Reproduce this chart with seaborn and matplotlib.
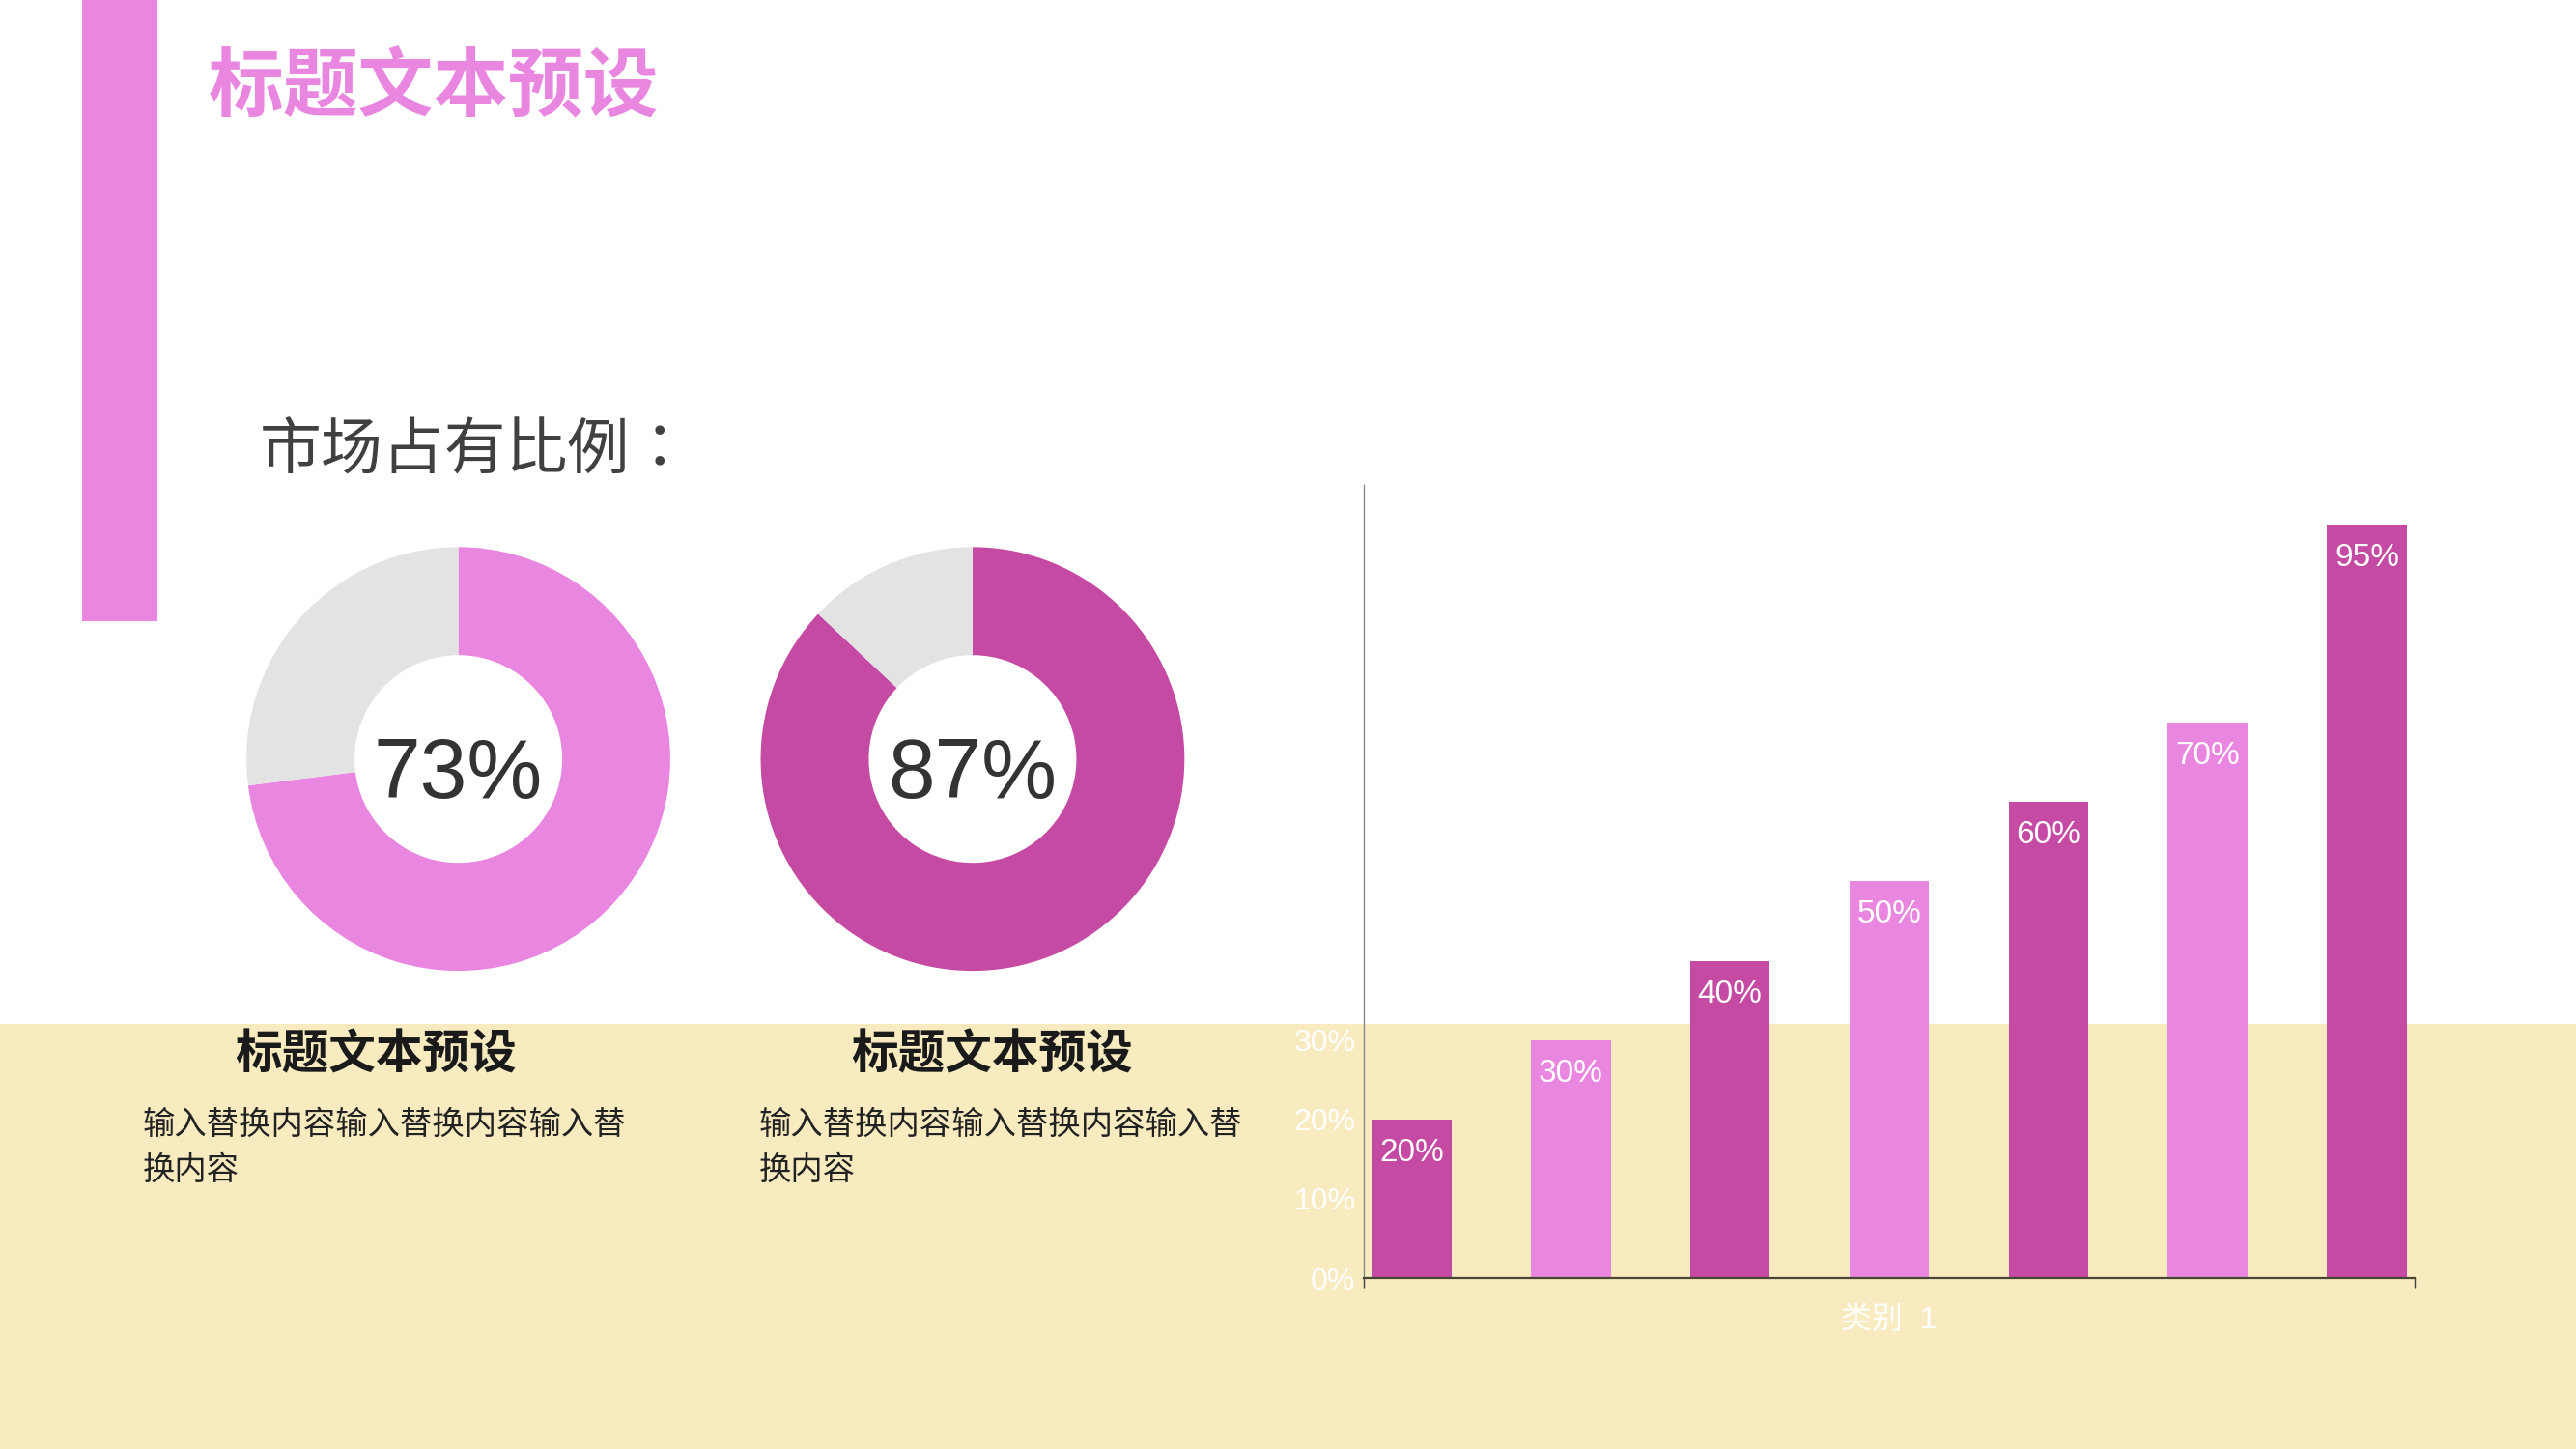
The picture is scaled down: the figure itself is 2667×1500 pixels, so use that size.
import numpy as np
import pandas as pd
import matplotlib
matplotlib.use("Agg")
import matplotlib.pyplot as plt
from matplotlib.patches import Rectangle
import seaborn as sns

# ---- data ----
share_values = [73, 87]
share_labels = ["73%", "87%"]
series_names = ["系列1", "系列2", "系列3", "系列4", "系列5", "系列6", "系列7"]
series_values = [20, 30, 40, 50, 60, 70, 95]
category = "类别  1"
y_ticks = [0, 10, 20, 30, 40, 50, 60, 70, 80, 90, 100]
title_text = "标题文本预设"
subtitle_text = "市场占有比例："
block_title = "标题文本预设"
body_line1 = "输入替换内容输入替换内容输入替"
body_line2 = "换内容"

PINK = "#E987E0"
MAGENTA = "#C44AA3"
GRAY = "#E3E3E3"
YELLOW = "#F8EBC0"

sns.set_theme(style="white")
plt.rcParams["font.family"] = ["Liberation Sans", "Noto Sans CJK SC", "DejaVu Sans"]

W, H = 1568, 882  # layout reference grid


def fx(x):
    return x / W


def fy(y):
    return 1 - y / H


fig = plt.figure(figsize=(26.67, 15), dpi=100)
fig.patch.set_facecolor("white")

# background shapes (behind every axes)
fig.patches.append(Rectangle((0, 0), 1, fy(623), transform=fig.transFigure,
                             facecolor=YELLOW, edgecolor="none", zorder=-10))
fig.patches.append(Rectangle((fx(50), fy(378)), fx(96) - fx(50), 1 - fy(378),
                             transform=fig.transFigure, facecolor=PINK,
                             edgecolor="none", zorder=-10))

# headings
fig.text(fx(127), fy(55), title_text, color=PINK, fontsize=56, fontweight="bold",
         ha="left", va="center")
fig.text(fx(158), fy(275), subtitle_text, color="#404040", fontsize=46,
         ha="left", va="center", family=["Noto Sans CJK TC", "DejaVu Sans"])

# donuts
donut_colors = [PINK, MAGENTA]
donut_cx = [279, 592]
for val, lab, col, cx in zip(share_values, share_labels, donut_colors, donut_cx):
    r = 129
    dax = fig.add_axes([fx(cx - r), fy(462 + r), 2 * r / W, 2 * r / H])
    dax.pie([val, 100 - val], startangle=90, counterclock=False,
            colors=[col, GRAY], wedgeprops=dict(width=0.51, linewidth=0))
    dax.set_xlim(-1, 1)
    dax.set_ylim(-1, 1)
    dax.axis("off")
    dax.text(0, -0.08, lab, ha="center", va="center", fontsize=63, color="#333333")

# text blocks
for cx, left in [(229, 87), (604, 462)]:
    fig.text(fx(cx), fy(643), block_title, fontsize=35, fontweight="bold",
             color="#1a1a1a", ha="center", va="center")
    fig.text(fx(left), fy(685), body_line1, fontsize=24, color="#222222",
             ha="left", va="center")
    fig.text(fx(left), fy(713), body_line2, fontsize=24, color="#222222",
             ha="left", va="center")

# bar chart
df = pd.DataFrame({"cat": [category] * len(series_names),
                   "series": series_names,
                   "value": series_values})
bar_colors = [MAGENTA if i % 2 == 0 else PINK for i in range(len(series_names))]

ax = fig.add_axes([fx(830), fy(778), fx(1470) - fx(830), fy(295) - fy(778)])
ax.patch.set_alpha(0)
sns.barplot(data=df, x="cat", y="value", hue="series", palette=bar_colors,
            width=1.06, gap=0.5, legend=False, saturation=1, linewidth=0, ax=ax)

for cont in ax.containers:
    ax.bar_label(cont, fmt="%d%%", label_type="edge", padding=-36,
                 color="white", fontsize=24)

ax.set_xlim(-0.5, 0.5)
ax.set_ylim(0, 100)
ax.set_yticks(y_ticks)
ax.set_yticklabels([f"{t}%" for t in y_ticks], color="white", fontsize=23)
ax.tick_params(axis="y", length=0, pad=6)
ax.tick_params(axis="x", which="major", length=0, pad=21, labelcolor="white",
               labelsize=23)
ax.set_xticks([-0.5, 0.5], minor=True)
ax.tick_params(axis="x", which="minor", length=7, width=1, color="#404040",
               direction="out", bottom=True)
ax.set_xlabel("")
ax.set_ylabel("")
for s in ["top", "right"]:
    ax.spines[s].set_visible(False)
ax.spines["left"].set_color("#888888")
ax.spines["left"].set_linewidth(1)
ax.spines["bottom"].set_color("#4a4636")
ax.spines["bottom"].set_linewidth(1.6)

fig.savefig("out.png", dpi=100, facecolor=fig.get_facecolor())
